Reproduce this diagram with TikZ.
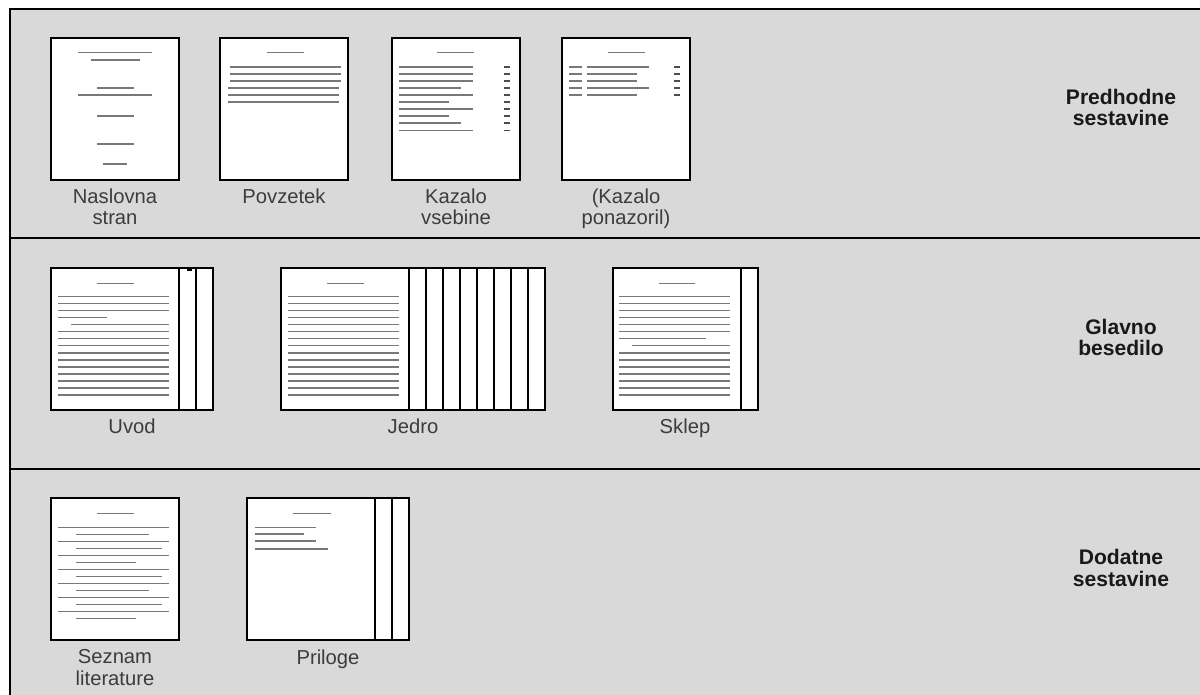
\documentclass[tikz,border=0pt]{standalone}
\usepackage{fontspec}
\setmainfont{Liberation Sans}
\usetikzlibrary{positioning}
\usetikzlibrary{calc}

\definecolor{panelgray}{RGB}{217,217,217}
\definecolor{rulegray}{RGB}{120,120,120}
\definecolor{labelgray}{RGB}{60,60,60}

\tikzset{
    page/.style={draw=black, fill=white, line width=1.2pt},
    txt/.style={draw=rulegray, line width=0.75pt},
    pagelabel/.style={font=\fontsize{11.5}{12}\selectfont, text=labelgray,
        align=center, inner sep=0pt, anchor=base},
    partlabel/.style={font=\fontsize{12}{12}\selectfont\bfseries, text=black!90,
        align=center, inner sep=0pt, anchor=base},
}

\begin{document}
\begin{tikzpicture}[x=0.02cm, y=-0.02cm]
    \newcommand\pagew{128}
\newcommand\pageh{142}
\newcommand\strip{17}
\newcommand\rowstep{7.02}
% base of the last label line, one or two lines
\newcommand\lblone{166}
\newcommand\lbltwo{187}

\useasboundingbox (0,0) rectangle (1200,695);

\fill[panelgray] (10,9) rectangle (1200,695);
\draw[line width=1pt] (10,695) -- (10,9) -- (1200,9);
\draw[line width=1pt] (10,238) -- (1200,238);
\draw[line width=1pt] (10,469) -- (1200,469);

\node[partlabel] (predhodne) at (1121,126) {Predhodne\\sestavine};
\node[partlabel] (glavno) at (1121,356) {Glavno\\besedilo};
\node[partlabel] (dodatne) at (1121,586) {Dodatne\\sestavine};

% title page
\begin{scope}[shift={(51,38)}]
    \draw[page] (0,0) rectangle (\pagew,\pageh);
    \draw[txt] (27,14.7) -- (101,14.7);
    \draw[txt] (40,22) -- (89,22);
    \draw[txt] (46,50) -- (83,50);
    \draw[txt] (27,57) -- (101,57);
    \draw[txt] (46,78) -- (83,78);
    \draw[txt] (46,106) -- (83,106);
    \draw[txt] (52,126) -- (76,126);
    \node[pagelabel] (naslovna) at (64,\lbltwo) {Naslovna\\stran};
\end{scope}

% abstract
\begin{scope}[shift={(220,38)}]
    \draw[page] (0,0) rectangle (\pagew,\pageh);
    \draw[txt] (47,14.7) -- (84,14.7);
    \foreach \y in {29,36,43}
        \draw[txt] (10,\y) -- (121,\y);
    \foreach \y in {50,57,64}
        \draw[txt] (8,\y) -- (119,\y);
    \node[pagelabel] (povzetek) at (64,\lblone) {Povzetek};
\end{scope}

% table of contents
\begin{scope}[shift={(392,38)}]
    \draw[page] (0,0) rectangle (\pagew,\pageh);
    \draw[txt] (45,14.7) -- (82,14.7);
    \foreach \e [count=\i from 0] in {81,81,81,69,81,57,81,57,69,81} {
        \draw[txt] (7,29+\rowstep*\i) -- (\e,29+\rowstep*\i);
        \draw[txt, draw=black!70] (112,29+\rowstep*\i) -- (118,29+\rowstep*\i);
    }
    \node[pagelabel] (vsebina) at (64,\lbltwo) {Kazalo\\vsebine};
\end{scope}

% list of figures
\begin{scope}[shift={(562,38)}]
    \draw[page] (0,0) rectangle (\pagew,\pageh);
    \draw[txt] (46,14.7) -- (83,14.7);
    \foreach \e [count=\i from 0] in {87,75,75,87,75} {
        \draw[txt] (7,29+\rowstep*\i) -- (20,29+\rowstep*\i);
        \draw[txt] (25,29+\rowstep*\i) -- (\e,29+\rowstep*\i);
        \draw[txt, draw=black!70] (112,29+\rowstep*\i) -- (118,29+\rowstep*\i);
    }
    \node[pagelabel] (ponazorila) at (64,\lbltwo) {(Kazalo\\ponazoril)};
\end{scope}

% introduction
\begin{scope}[shift={(51,268)}]
    \foreach \i in {0,1}
        \draw[page] (\pagew+\strip*\i,0) rectangle ++(\strip,\pageh);
    \fill (136,0) rectangle (141,3);
    \draw[page] (0,0) rectangle (\pagew,\pageh);
    \draw[txt] (46,15.3) -- (83,15.3);
    \foreach \i in {0,...,14} {
        \ifnum\i=3
            \draw[txt] (7,28.7+\rowstep*\i) -- (56,28.7+\rowstep*\i);
        \else\ifnum\i=4
            \draw[txt] (20,28.7+\rowstep*\i) -- (118,28.7+\rowstep*\i);
        \else
            \draw[txt] (7,28.7+\rowstep*\i) -- (118,28.7+\rowstep*\i);
        \fi\fi
    }
    \node[pagelabel] (uvod) at (81,\lblone) {Uvod};
\end{scope}

% main body
\begin{scope}[shift={(281,268)}]
    \foreach \i in {0,...,7}
        \draw[page] (\pagew+\strip*\i,0) rectangle ++(\strip,\pageh);
    \draw[page] (0,0) rectangle (\pagew,\pageh);
    \draw[txt] (46,15.3) -- (83,15.3);
    \foreach \i in {0,...,14}
        \draw[txt] (7,28.7+\rowstep*\i) -- (118,28.7+\rowstep*\i);
    \node[pagelabel] (jedro) at (132,\lblone) {Jedro};
\end{scope}

% conclusion
\begin{scope}[shift={(613,268)}]
    \draw[page] (\pagew,0) rectangle ++(\strip,\pageh);
    \draw[page] (0,0) rectangle (\pagew,\pageh);
    \draw[txt] (46,15.3) -- (82,15.3);
    \foreach \i in {0,...,14} {
        \ifnum\i=6
            \draw[txt] (6,28.7+\rowstep*\i) -- (93,28.7+\rowstep*\i);
        \else\ifnum\i=7
            \draw[txt] (19,28.7+\rowstep*\i) -- (117,28.7+\rowstep*\i);
        \else
            \draw[txt] (6,28.7+\rowstep*\i) -- (117,28.7+\rowstep*\i);
        \fi\fi
    }
    \node[pagelabel] (sklep) at (72,\lblone) {Sklep};
\end{scope}

% references
\begin{scope}[shift={(51,498)}]
    \draw[page] (0,0) rectangle (\pagew,\pageh);
    \draw[txt] (46,15.3) -- (83,15.3);
    \foreach \e [count=\i from 0] in {98,111,85,111,98,111,85} {
        \draw[txt] (7,29.3+2*\rowstep*\i) -- (118,29.3+2*\rowstep*\i);
        \draw[txt] (25,29.3+\rowstep+2*\rowstep*\i) -- (\e,29.3+\rowstep+2*\rowstep*\i);
    }
    \node[pagelabel] (seznam) at (64,\lbltwo) {Seznam\\literature};
\end{scope}

% appendices
\begin{scope}[shift={(247,498)}]
    \foreach \i in {0,1}
        \draw[page] (\pagew+\strip*\i,0) rectangle ++(\strip,\pageh);
    \draw[page] (0,0) rectangle (\pagew,\pageh);
    \draw[txt] (46,15.3) -- (84,15.3);
    \foreach \e/\y in {69/29.3,57/36,69/43,81/51}
        \draw[txt] (8,\y) -- (\e,\y);
    \node[pagelabel] (priloge) at (81,\lblone) {Priloge};
\end{scope}
\end{tikzpicture}
\end{document}
